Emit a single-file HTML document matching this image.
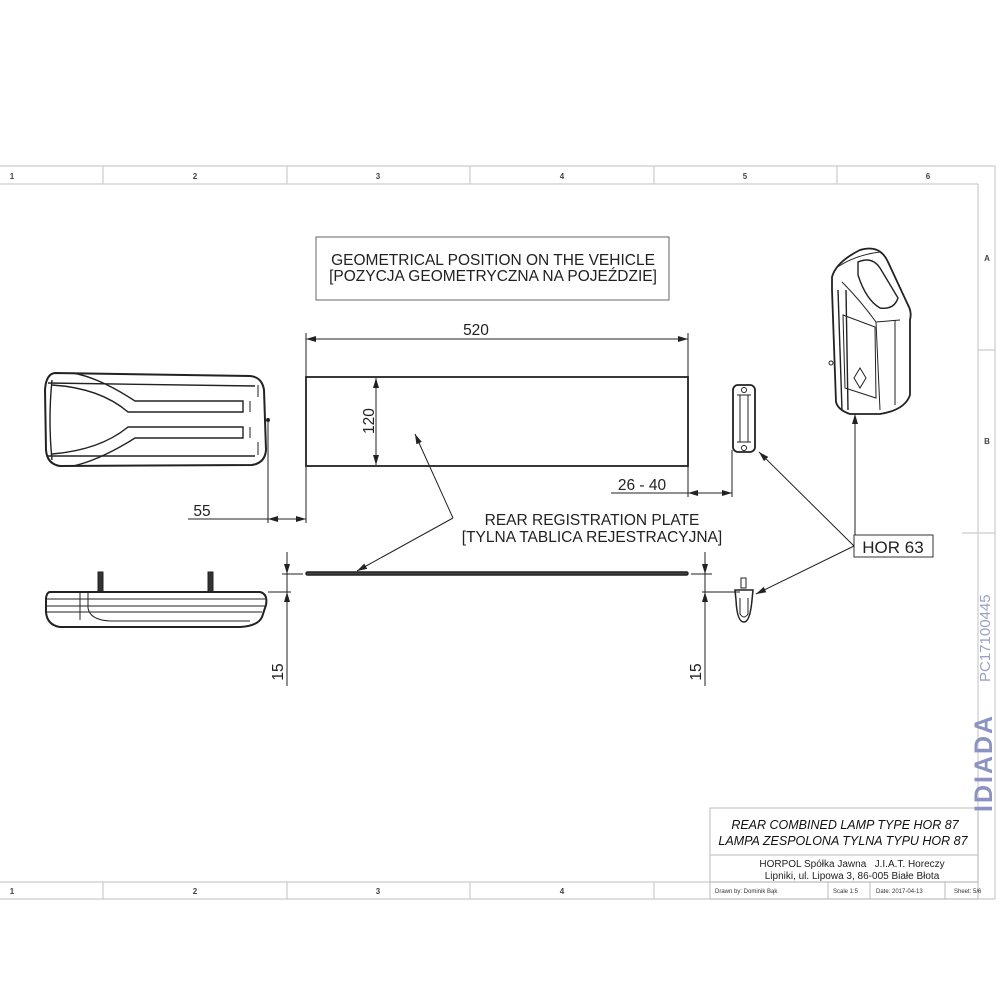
<!DOCTYPE html>
<html><head><meta charset="utf-8"><style>
html,body{margin:0;padding:0;background:#fff}
svg{display:block}
text{font-family:"Liberation Sans",sans-serif}
</style></head><body>
<svg width="1000" height="1000" viewBox="0 0 1000 1000" xmlns="http://www.w3.org/2000/svg">
<defs>
<marker id="a" viewBox="0 0 10 6" refX="10" refY="3" markerWidth="10" markerHeight="6" orient="auto-start-reverse" markerUnits="userSpaceOnUse"><path d="M0,0 L10,3 L0,6 z" fill="#222"/></marker>
</defs>
<g stroke="#ccc" stroke-width="1.2" fill="none">
<line x1="0" y1="166" x2="995" y2="166"/>
<line x1="0" y1="184" x2="978" y2="184"/>
<line x1="995" y1="166" x2="995" y2="899"/>
<line x1="978" y1="184" x2="978" y2="882"/>
<line x1="0" y1="882" x2="978" y2="882"/>
<line x1="0" y1="899" x2="995" y2="899"/>
<line x1="103" y1="166" x2="103" y2="184"/><line x1="287" y1="166" x2="287" y2="184"/><line x1="470" y1="166" x2="470" y2="184"/><line x1="654" y1="166" x2="654" y2="184"/><line x1="837" y1="166" x2="837" y2="184"/>
<line x1="103" y1="882" x2="103" y2="899"/><line x1="287" y1="882" x2="287" y2="899"/><line x1="470" y1="882" x2="470" y2="899"/><line x1="654" y1="882" x2="654" y2="899"/>
<line x1="978" y1="350" x2="995" y2="350"/><line x1="962" y1="533" x2="995" y2="533"/>
</g>
<g font-size="8" fill="#444" text-anchor="middle" font-weight="bold">
<text x="12" y="179">1</text><text x="195" y="179">2</text><text x="378" y="179">3</text><text x="562" y="179">4</text><text x="745" y="179">5</text><text x="928" y="179">6</text>
<text x="12" y="894">1</text><text x="195" y="894">2</text><text x="378" y="894">3</text><text x="562" y="894">4</text>
<text x="987" y="261">A</text><text x="987" y="444">B</text>
</g>
<g stroke="#bbb" stroke-width="1" fill="none">
<rect x="710" y="808" width="268" height="91"/>
<line x1="710" y1="855" x2="978" y2="855"/>
<line x1="710" y1="882" x2="978" y2="882"/>
<line x1="828" y1="882" x2="828" y2="899"/><line x1="870" y1="882" x2="870" y2="899"/><line x1="945" y1="882" x2="945" y2="899"/>
</g>
<g font-style="italic" font-size="12.5" fill="#111" text-anchor="middle">
<text x="845" y="829">REAR COMBINED LAMP TYPE HOR 87</text>
<text x="843" y="845">LAMPA ZESPOLONA TYLNA TYPU HOR 87</text>
</g>
<g font-size="10" fill="#222" text-anchor="middle">
<text x="852" y="867">HORPOL Spółka Jawna &#160; J.I.A.T. Horeczy</text>
<text x="852" y="879">Lipniki, ul. Lipowa 3, 86-005 Białe Błota</text>
</g>
<g font-size="6" fill="#333">
<text x="715" y="893">Drawn by:  Dominik Bąk</text>
<text x="833" y="893">Scale  1:5</text>
<text x="876" y="893">Date: 2017-04-13</text>
<text x="954" y="893">Sheet: 5/6</text>
</g>
<text transform="translate(990,682) rotate(-90)" font-size="15" fill="#9aa0c8">PC17100445</text>
<text transform="translate(992,812) rotate(-90)" font-size="25" font-weight="bold" fill="#8c92c2" letter-spacing="2">IDIADA</text>

<rect x="316" y="237" width="353" height="63" fill="none" stroke="#666" stroke-width="1"/>
<g font-size="15.5" fill="#222" text-anchor="middle">
<text x="493" y="265">GEOMETRICAL POSITION ON THE VEHICLE</text>
<text x="493" y="281">[POZYCJA GEOMETRYCZNA NA POJEŹDZIE]</text>
<text x="476" y="335">520</text>
<text x="592" y="525">REAR REGISTRATION PLATE</text>
<text x="592" y="542">[TYLNA TABLICA REJESTRACYJNA]</text>
<text x="202" y="516">55</text>
<text x="642" y="490">26 - 40</text>
<text transform="translate(374,421) rotate(-90)" text-anchor="middle">120</text>
<text transform="translate(283,672) rotate(-90)" text-anchor="middle">15</text>
<text transform="translate(701,672) rotate(-90)" text-anchor="middle">15</text>
<text x="893" y="553" font-size="17">HOR 63</text>
</g>
<rect x="854" y="535" width="79" height="22" fill="none" stroke="#333" stroke-width="1"/>

<g stroke="#222" stroke-width="1" fill="none">
<rect x="306" y="377" width="382" height="89" stroke-width="1.8"/>
<line x1="306" y1="333" x2="306" y2="377"/><line x1="688" y1="333" x2="688" y2="377"/>
<line x1="306" y1="339" x2="688" y2="339" marker-start="url(#a)" marker-end="url(#a)"/>
<line x1="376" y1="378" x2="376" y2="465" marker-start="url(#a)" marker-end="url(#a)"/>
<rect x="306" y="572" width="382" height="3" rx="1.5" stroke-width="1.5" fill="#444"/>
<line x1="453" y1="518" x2="415" y2="434" marker-end="url(#a)"/>
<line x1="453" y1="518" x2="357" y2="571" marker-end="url(#a)"/>
<line x1="268" y1="418" x2="268" y2="523"/><line x1="306" y1="466" x2="306" y2="523"/>
<line x1="188" y1="519" x2="268" y2="519"/>
<line x1="268" y1="519" x2="306" y2="519" marker-start="url(#a)" marker-end="url(#a)"/>
<line x1="688" y1="466" x2="688" y2="497"/><line x1="732" y1="450" x2="732" y2="497"/>
<line x1="611" y1="493" x2="688" y2="493"/>
<line x1="688" y1="493" x2="732" y2="493" marker-start="url(#a)" marker-end="url(#a)"/>
<line x1="287" y1="552" x2="287" y2="686"/>
<line x1="282" y1="574" x2="303" y2="574"/><line x1="268" y1="592" x2="291" y2="592"/>
<line x1="287" y1="555" x2="287" y2="574" marker-end="url(#a)"/>
<line x1="287" y1="612" x2="287" y2="592" marker-end="url(#a)"/>
<line x1="705" y1="552" x2="705" y2="686"/>
<line x1="691" y1="574" x2="712" y2="574"/><line x1="702" y1="592" x2="740" y2="592"/>
<line x1="705" y1="555" x2="705" y2="574" marker-end="url(#a)"/>
<line x1="705" y1="612" x2="705" y2="592" marker-end="url(#a)"/>
<line x1="854" y1="546" x2="759" y2="452" marker-end="url(#a)"/>
<line x1="854" y1="546" x2="756" y2="594" marker-end="url(#a)"/>
<line x1="855" y1="535" x2="855" y2="414" marker-end="url(#a)"/>

<g stroke-width="2">
<path d="M55,373 L250,376 Q262,377 264,390 L266,450 Q265,463 252,465 L60,466 Q47,464 46,450 L45,390 Q46,374 55,373 Z"/>
</g>
<g stroke-width="1.4">
<path d="M48,383 L255,386 M48,456 L255,456 M52,380 Q48,420 52,460"/>
<path d="M73,373 Q100,378 135,401 L243,401 L243,412 L128,412 Q100,388 52,385"/>
<path d="M73,466 Q100,460 135,438 L243,438 L243,427 L128,427 Q100,450 52,454"/>
</g>
<line x1="250" y1="401" x2="250" y2="412"/><line x1="250" y1="427" x2="250" y2="438"/>
<path d="M258,385 L258,397 M258,442 L258,455"/>
<circle cx="268" cy="420" r="1.5" fill="#222"/>
<rect x="98" y="572" width="5" height="20" fill="#333"/>
<rect x="208" y="572" width="5" height="20" fill="#333"/>
<path d="M50,592 L260,592 Q268,594 266,605 L262,617 Q258,626 240,627 L60,627 Q47,625 46,612 L46,598 Q47,592 50,592 Z" stroke-width="2"/>
<path d="M47,599 L265,599 M47,606 L265,606 M47,612 L262,612 M80,592 L80,620 M88,592 L88,608 Q90,620 110,621 L250,621"/>

<rect x="733" y="385" width="22" height="67" rx="5" stroke-width="1.8"/>
<path d="M737,395 L751,395 M737,442 L751,442 M740,395 L740,442 M748,395 L748,442"/>
<circle cx="744" cy="390" r="2.5"/><circle cx="744" cy="448" r="2.5"/>
<rect x="741" y="578" width="5" height="10"/>
<path d="M735,590 L753,590 L752,600 Q750,622 744,622 Q737,622 736,600 Z" stroke-width="1.5"/>
<path d="M740,598 L740,614 Q744,620 748,614 L748,598"/>

<g stroke-width="1.8">
<path d="M832,277 Q836,262 860,250 Q880,244 888,262 L908,305 Q912,312 910,320 L910,395 Q905,410 880,414 L850,414 Q838,410 836,402 L832,290 Z"/>
</g>
<path d="M838,290 L842,410 M846,290 L848,410 M858,262 Q872,256 880,268 L898,298 Q894,310 880,308 Q866,300 858,275 Z" stroke-width="1.4"/>
<path d="M842,282 Q860,300 876,322 L900,320 M876,322 L880,410 M895,320 L895,405 M836,268 Q855,255 880,252"/>
<path d="M843,315 L875,327 L876,398 L845,388 Z"/>
<path d="M860,368 L866,378 L860,388 L854,378 Z"/>
<circle cx="831" cy="363" r="2"/>
</g>
</svg>
</body></html>
